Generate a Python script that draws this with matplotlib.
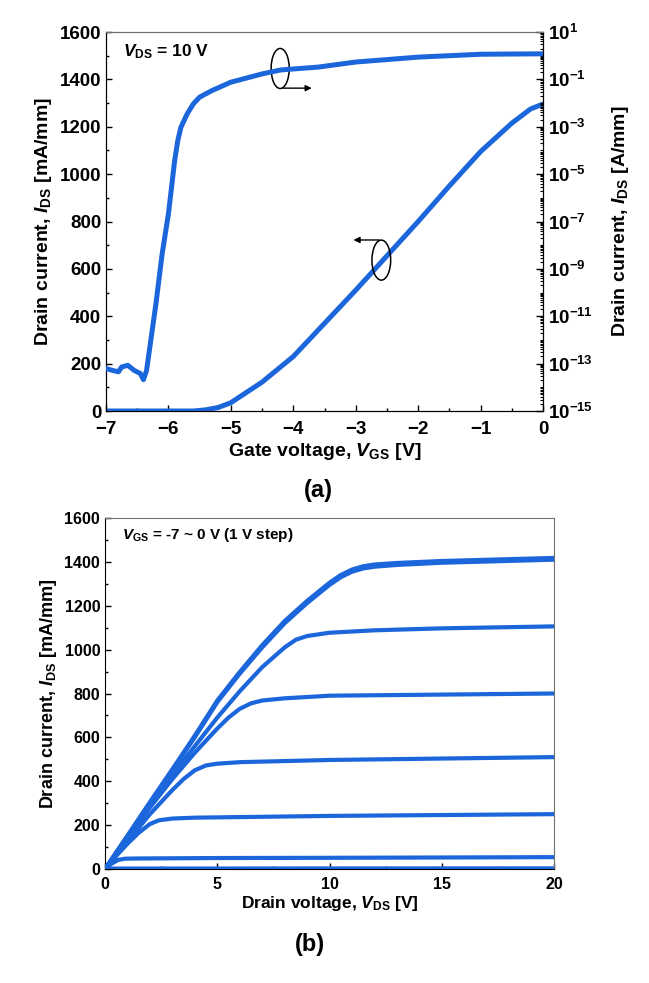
import numpy as np
import matplotlib
matplotlib.use("Agg")
import matplotlib.pyplot as plt
from matplotlib.patches import Ellipse
from matplotlib.ticker import MultipleLocator, FixedLocator, LogLocator, NullFormatter, FuncFormatter

plt.rcParams['font.family'] = ['Liberation Sans', 'DejaVu Sans']
plt.rcParams['font.weight'] = 'bold'
plt.rcParams['mathtext.fontset'] = 'custom'
plt.rcParams['mathtext.rm'] = 'Liberation Sans:bold'
plt.rcParams['mathtext.it'] = 'Liberation Sans:bold:italic'
plt.rcParams['mathtext.bf'] = 'Liberation Sans:bold'
plt.rcParams['mathtext.default'] = 'rm'

BLUE = '#1c66dc'

# ---------------- (a) transfer characteristics ----------------
vgs_lin = [-7, -6, -5.6, -5.4, -5.2, -5.0, -4.5, -4.0, -3.5, -3.0, -2.5, -2.0, -1.5, -1.0, -0.5, -0.2, 0.0]
ids_lin = [0, 0, 0, 5, 15, 35, 122, 230, 370, 510, 655, 800, 950, 1095, 1215, 1275, 1296]   # mA/mm

vgs_log = [-7.0, -6.9, -6.8, -6.75, -6.65, -6.55, -6.45, -6.4, -6.35, -6.2, -6.1, -6.0, -5.9,
           -5.85, -5.8, -5.7, -5.6, -5.5, -5.3, -5.0, -4.5, -4.2, -4.0, -3.6, -3.0, -2.0, -1.0, 0.0]
ids_log = [6.2e-14, 5.2e-14, 4.5e-14, 7.2e-14, 8.5e-14, 5.2e-14, 3.8e-14, 2.1e-14, 5.2e-14,
           3.4e-11, 4.4e-9, 2.1e-7, 3.8e-5, 2.6e-4, 9.5e-4, 3.5e-3, 9.3e-3, 1.78e-2, 3.4e-2,
           7.6e-2, 0.17, 0.25, 0.275, 0.33, 0.54, 0.87, 1.15, 1.2]   # A/mm

# ---------------- (b) output characteristics ----------------
vgs_steps = [-7, -6, -5, -4, -3, -2, -1, 0]
vds_curves = [
    [0, 20],
    [0, 0.3, 0.6, 0.9, 1.5, 5, 10, 20],
    [0, 0.5, 1, 1.5, 2, 2.4, 3, 4, 10, 20],
    [0, 1, 2, 3, 3.5, 4, 4.5, 5, 6, 10, 20],
    [0, 1, 2, 3, 4, 5, 5.5, 6, 6.5, 7, 8, 10, 20],
    [0, 1, 2, 3, 4, 5, 6, 7, 8, 8.5, 9, 10, 12, 15, 20],
    [0, 1, 2, 3, 4, 5, 6, 7, 8, 9, 10, 10.5, 11, 11.5, 12, 13, 15, 20],
    [0, 1, 2, 3, 4, 5, 6, 7, 8, 9, 10, 10.5, 11, 11.5, 12, 13, 15, 20],
]
ids_curves = [
    [2, 3],
    [0, 25, 42, 47, 48, 50, 51, 54],
    [0, 60, 115, 165, 205, 222, 230, 234, 242, 250],
    [0, 125, 250, 360, 410, 450, 472, 480, 487, 497, 510],
    [0, 140, 280, 410, 530, 640, 690, 730, 755, 768, 778, 790, 800],
    [0, 145, 290, 430, 560, 690, 810, 920, 1010, 1045, 1062, 1077, 1088, 1097, 1106],
    [0, 150, 300, 450, 600, 760, 890, 1010, 1120, 1212, 1295, 1330, 1355, 1370, 1378, 1386, 1396, 1410],
    [0, 152, 305, 455, 608, 768, 898, 1020, 1130, 1222, 1305, 1340, 1365, 1380, 1388, 1395, 1404, 1418],
]

fig = plt.figure(figsize=(6.49, 9.83), dpi=100)

# ---- top panel
ax = fig.add_axes([106/649, 1-411/983, (543-106)/649, (411-32)/983])
ax.plot(vgs_lin, ids_lin, color=BLUE, lw=3.6, zorder=3)
ax.set_xlim(-7, 0)
ax.set_ylim(0, 1600)
ax.xaxis.set_major_locator(MultipleLocator(1))
ax.xaxis.set_minor_locator(MultipleLocator(0.5))
ax.yaxis.set_major_locator(MultipleLocator(200))
ax.yaxis.set_minor_locator(MultipleLocator(100))
ax.tick_params(axis='both', which='both', direction='in', labelsize=13.5, top=False, right=False)
ax.tick_params(which='major', length=4, width=1)
ax.tick_params(which='minor', length=2.5, width=1)
ax.tick_params(axis='x', which='major', pad=7)
ax.spines['top'].set_color('#707070')
ax.set_xlabel(r'Gate voltage, $\mathit{V}_{\rm GS}$ [V]', fontsize=14, fontweight='bold', labelpad=2)
ax.set_ylabel(r'Drain current, $\mathit{I}_{\rm DS}$ [mA/mm]', fontsize=14, fontweight='bold', labelpad=4)
ax.text(-6.72, 1515, r'$\mathit{V}_{\rm DS}$ = 10 V', fontsize=12.5, fontweight='bold', va='center', ha='left')

ax2 = ax.twinx()
ax2.set_yscale('log')
ax2.plot(vgs_log, ids_log, color=BLUE, lw=3.6, zorder=3)
ax2.set_ylim(1e-15, 1e1)
ax2.set_xlim(-7, 0)
ax2.yaxis.set_major_locator(FixedLocator([10.0**e for e in range(-15, 2, 2)]))
ax2.yaxis.set_minor_locator(LogLocator(base=10, subs=np.arange(1, 10), numticks=100))
ax2.yaxis.set_minor_formatter(NullFormatter())
ax2.yaxis.set_major_formatter(FuncFormatter(lambda v, p: r'$10^{%d}$' % int(round(np.log10(v)))))
ax2.tick_params(axis='y', which='both', direction='in', labelsize=13.5)
ax2.tick_params(which='major', length=5, width=1)
ax2.tick_params(which='minor', length=2.5, width=0.8)
ax2.spines['top'].set_color('#707070')
ax2.set_ylabel(r'Drain current, $\mathit{I}_{\rm DS}$ [A/mm]', fontsize=14, fontweight='bold', labelpad=12)

# annotations (ellipses + arrows)
ax.add_patch(Ellipse((-4.21, 1446), 0.29, 169, fill=False, ec='black', lw=1.1, zorder=4))
ax.annotate('', xy=(-3.66, 1363), xytext=(-4.21, 1363),
            arrowprops=dict(arrowstyle='-|>', color='black', lw=1.0, mutation_scale=9), zorder=4)
ax.add_patch(Ellipse((-2.59, 637), 0.30, 169, fill=False, ec='black', lw=1.1, zorder=4))
ax.annotate('', xy=(-3.08, 722), xytext=(-2.58, 722),
            arrowprops=dict(arrowstyle='-|>', color='black', lw=1.0, mutation_scale=9), zorder=4)

fig.text(318/649, 1-490/983, '(a)', fontsize=17, fontweight='bold', ha='center', va='center')

# ---- bottom panel
bx = fig.add_axes([105/649, 1-869/983, (554-105)/649, (869-518)/983])
for vds, ids in zip(vds_curves, ids_curves):
    bx.plot(vds, ids, color=BLUE, lw=3.0, zorder=3)
bx.set_xlim(0, 20)
bx.set_ylim(0, 1600)
bx.xaxis.set_major_locator(MultipleLocator(5))
bx.xaxis.set_minor_locator(MultipleLocator(2.5))
bx.yaxis.set_major_locator(MultipleLocator(200))
bx.yaxis.set_minor_locator(MultipleLocator(100))
bx.tick_params(axis='both', which='both', direction='in', labelsize=11.5, top=False, right=False)
bx.tick_params(which='major', length=4, width=1)
bx.tick_params(which='minor', length=2.5, width=1)
bx.tick_params(axis='x', which='major', pad=6)
bx.spines['top'].set_color('#707070')
bx.spines['right'].set_color('#707070')
bx.set_xlabel(r'Drain voltage, $\mathit{V}_{\rm DS}$ [V]', fontsize=12.5, fontweight='bold', labelpad=1)
bx.set_ylabel(r'Drain current, $\mathit{I}_{\rm DS}$ [mA/mm]', fontsize=13, fontweight='bold', labelpad=4)
bx.text(0.75, 1522, r'$\mathit{V}_{\rm GS}$ = -7 ~ 0 V (1 V step)', fontsize=11, fontweight='bold',
        va='center', ha='left')

fig.text(310/649, 1-944/983, '(b)', fontsize=17, fontweight='bold', ha='center', va='center')

fig.savefig('out.png', dpi=100)
